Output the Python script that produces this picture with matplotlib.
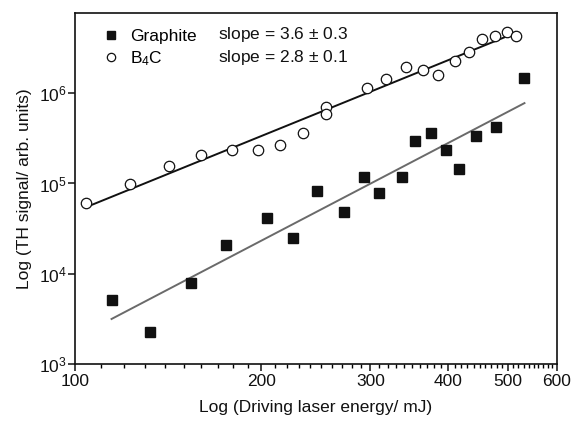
import numpy as np
import matplotlib
matplotlib.use("Agg")
import matplotlib.pyplot as plt
from matplotlib.ticker import FixedLocator, NullLocator, LogFormatterSciNotation

plt.rcParams['font.family'] = ['Liberation Sans', 'DejaVu Sans']
plt.rcParams['mathtext.fontset'] = 'custom'
plt.rcParams['mathtext.rm'] = 'Liberation Sans'
plt.rcParams['mathtext.default'] = 'regular'

# graphite: driving energy (mJ) vs TH signal
graphite_e = [114.6, 132.4, 153.9, 175.6, 204.5, 225.0, 245.6, 271.4, 292.9,
              309.5, 337.2, 353.5, 375.0, 397.9, 416.3, 444.5, 478.8, 531.7]
graphite_s = [5.1e3, 2.27e3, 7.8e3, 2.07e4, 4.14e4, 2.49e4, 8.2e4, 4.82e4, 1.17e5,
              7.8e4, 1.17e5, 2.99e5, 3.6e5, 2.32e5, 1.45e5, 3.33e5, 4.27e5, 1.46e6]

# B4C
b4c_e = [104.2, 122.6, 141.8, 159.7, 179.0, 197.5, 214.2, 233.5, 254.0, 254.0,
         296.5, 317.4, 342.6, 364.7, 385.1, 410.4, 433.4, 454.0, 475.9, 498.1, 515.6]
b4c_s = [6.0e4, 9.9e4, 1.57e5, 2.09e5, 2.36e5, 2.36e5, 2.68e5, 3.66e5, 7.1e5, 5.89e5,
         1.14e6, 1.45e6, 1.93e6, 1.80e6, 1.60e6, 2.29e6, 2.88e6, 3.97e6, 4.25e6, 4.82e6, 4.25e6]

x_ticks = [100, 200, 300, 400, 500, 600]
y_ticks = [1e3, 1e4, 1e5, 1e6]


def power_fit(e, s):
    # straight line in log-log space
    k, b = np.polyfit(np.log10(e), np.log10(s), 1)
    xx = np.array([min(e), max(e)])
    return xx, 10 ** (k * np.log10(xx) + b)


fig = plt.figure(figsize=(5.76, 4.24), dpi=100)
ax = fig.add_axes([0.130, 0.1415, 0.837, 0.8275])

gx, gy = power_fit(graphite_e, graphite_s)
bx, by = power_fit(b4c_e, b4c_s)
ax.plot(gx, gy, color='#6a6a6a', lw=1.4, zorder=2)
ax.plot(bx, by, color='#111111', lw=1.4, zorder=2)

h1, = ax.plot(graphite_e, graphite_s, 's', ms=6.5, mfc='#111111', mec='#111111',
              ls='none', zorder=3)
h2, = ax.plot(b4c_e, b4c_s, 'o', ms=7.5, mfc='white', mec='#111111', mew=0.9,
              ls='none', zorder=3)

ax.set_xscale('log')
ax.set_yscale('log')
ax.set_xlim(100, 600)
ax.set_ylim(1e3, 7.7e6)

ax.xaxis.set_major_locator(FixedLocator(x_ticks))
ax.set_xticklabels([str(t) for t in x_ticks])
minors = [v for v in range(110, 600, 10) if v % 100 != 0]
ax.xaxis.set_minor_locator(FixedLocator(minors))
ax.xaxis.set_minor_formatter(plt.NullFormatter())
ax.yaxis.set_major_locator(FixedLocator(y_ticks))
ax.yaxis.set_major_formatter(LogFormatterSciNotation())
ax.yaxis.set_minor_locator(NullLocator())

ax.tick_params(which='major', direction='out', length=5, width=1.1, labelsize=12.5,
               colors='#111111')
ax.tick_params(which='minor', direction='out', length=3, width=1.0)
ax.tick_params(axis='x', pad=2)
ax.tick_params(axis='y', pad=1)
for sp in ax.spines.values():
    sp.set_linewidth(1.2)
    sp.set_color('#111111')

ax.set_xlabel('Log (Driving laser energy/ mJ)', fontsize=12.5, labelpad=8, color='#111111')
ax.set_ylabel('Log (TH signal/ arb. units)', fontsize=12.5, labelpad=5, color='#111111')

ax.legend([h1, h2], ['Graphite', 'B$_4$C'], loc='upper left', frameon=False,
          fontsize=12.5, bbox_to_anchor=(0.02, 1.0), handletextpad=0.5,
          labelspacing=0.3, handlelength=1.2, markerscale=0.8)
ax.text(0.297, 0.940, 'slope = 3.6 $\\pm$ 0.3', transform=ax.transAxes,
        fontsize=12.5, va='center', color='#111111')
ax.text(0.297, 0.875, 'slope = 2.8 $\\pm$ 0.1', transform=ax.transAxes,
        fontsize=12.5, va='center', color='#111111')

fig.savefig('out.png', dpi=100)
